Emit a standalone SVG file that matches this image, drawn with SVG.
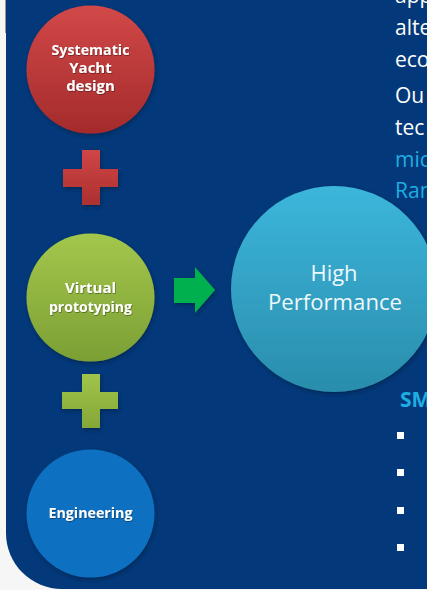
<svg xmlns="http://www.w3.org/2000/svg" width="427" height="590" viewBox="0 0 427 590">
  <defs>
    <linearGradient id="gRed" x1="0" y1="0" x2="0" y2="1">
      <stop offset="0" stop-color="#d24848"/>
      <stop offset="1" stop-color="#a42b2b"/>
    </linearGradient>
    <linearGradient id="gGreen" x1="0" y1="0" x2="0" y2="1">
      <stop offset="0" stop-color="#a3c74c"/>
      <stop offset="1" stop-color="#7c9f34"/>
    </linearGradient>
    <linearGradient id="gCyan" x1="0" y1="0" x2="0" y2="1">
      <stop offset="0" stop-color="#3cb6dc"/>
      <stop offset="1" stop-color="#2a8dac"/>
    </linearGradient>
    <linearGradient id="gRedCross" x1="0" y1="0" x2="0" y2="1">
      <stop offset="0" stop-color="#d04545"/>
      <stop offset="1" stop-color="#ac3030"/>
    </linearGradient>
    <linearGradient id="gGreenCross" x1="0" y1="0" x2="0" y2="1">
      <stop offset="0" stop-color="#a0c44a"/>
      <stop offset="1" stop-color="#84a738"/>
    </linearGradient>
    <filter id="shadow" x="-20%" y="-20%" width="140%" height="140%">
      <feDropShadow dx="1" dy="2" stdDeviation="2" flood-color="#001a3a" flood-opacity="0.6"/>
    </filter>
    <filter id="tshadow" x="-10%" y="-30%" width="120%" height="160%">
      <feDropShadow dx="0.6" dy="0.8" stdDeviation="0.6" flood-color="#000" flood-opacity="0.45"/>
    </filter>
  </defs>
  <style>
    .lbl { font-family: "Open Sans", "Liberation Sans", sans-serif; font-weight: bold; font-size: 15px; fill: #ffffff; text-anchor: middle; }
    .big { font-family: "Open Sans", "Liberation Sans", sans-serif; font-size: 22px; fill: #eef8fb; text-anchor: middle; }
    .body { font-family: "Open Sans", "Liberation Sans", sans-serif; font-size: 21px; fill: #ffffff; }
    .cyan { fill: #1eaee2; }
    .bullet { fill: #ffffff; }
  </style>

  <!-- page -->
  <rect x="0" y="0" width="427" height="590" fill="#f6f6f6"/>
  <line x1="5.5" y1="0" x2="5.5" y2="33" stroke="#9a9a9a" stroke-width="1"/>
  <path d="M6,0 H427 V589 H62 A56,56 0 0 1 6,533 Z" fill="#03397a"/>

  <!-- right text fragments -->
  <g id="paragraph">
    <text class="body" x="395" y="3">app</text>
    <text class="body" x="395" y="35">alte</text>
    <text class="body" x="395" y="67">eco</text>
    <text class="body" x="395" y="103">Ou</text>
    <text class="body" x="395" y="135">tec</text>
    <text class="body cyan" x="395" y="167">mic</text>
    <text class="body cyan" x="395" y="198">Ran</text>
  </g>

  <g id="connectors">
    <g id="plus-red" filter="url(#shadow)">
      <path d="M82,150 H100 V169 H118 V187 H100 V205 H82 V187 H63 V169 H82 Z" fill="url(#gRedCross)"/>
    </g>
    <g id="plus-green" filter="url(#shadow)">
      <path d="M82,374 H100 V392 H118 V409 H100 V428 H82 V409 H62 V392 H82 Z" fill="url(#gGreenCross)"/>
    </g>
    <g id="arrow" filter="url(#shadow)">
      <path d="M174,278 H195 V267 L215,290 L195,313 V303 H174 Z" fill="#00b04f"/>
    </g>
  </g>

  <g id="node-systematic">
    <circle cx="90.5" cy="69.5" r="64" fill="url(#gRed)" filter="url(#shadow)"/>
    <g filter="url(#tshadow)">
      <text class="lbl" x="90.5" y="55" textLength="78" lengthAdjust="spacingAndGlyphs">Systematic</text>
      <text class="lbl" x="90.5" y="73">Yacht</text>
      <text class="lbl" x="90.5" y="91">design</text>
    </g>
  </g>

  <g id="node-virtual">
    <circle cx="90.5" cy="297.5" r="64" fill="url(#gGreen)" filter="url(#shadow)"/>
    <g filter="url(#tshadow)">
      <text class="lbl" x="90.5" y="293">Virtual</text>
      <text class="lbl" x="90.5" y="312" textLength="83" lengthAdjust="spacingAndGlyphs">prototyping</text>
    </g>
  </g>

  <g id="node-engineering">
    <circle cx="90.5" cy="513.5" r="64" fill="#0a6fc1" filter="url(#shadow)"/>
    <g filter="url(#tshadow)">
      <text class="lbl" x="90.5" y="518" textLength="84" lengthAdjust="spacingAndGlyphs">Engineering</text>
    </g>
  </g>

  <g id="node-high-performance">
    <circle cx="334" cy="289" r="103" fill="url(#gCyan)" filter="url(#shadow)"/>
    <text class="big" x="334" y="281" textLength="47" lengthAdjust="spacingAndGlyphs">High</text>
    <text class="big" x="335" y="310" textLength="134" lengthAdjust="spacingAndGlyphs">Performance</text>
  </g>

  <g id="sm-list">
    <text class="body cyan" x="400" y="407" font-weight="bold">SM</text>
    <rect class="bullet" x="397" y="432" width="7" height="7"/>
    <rect class="bullet" x="397" y="469" width="7" height="7"/>
    <rect class="bullet" x="397" y="507" width="7" height="7"/>
    <rect class="bullet" x="397" y="544" width="7" height="7"/>
  </g>
</svg>
